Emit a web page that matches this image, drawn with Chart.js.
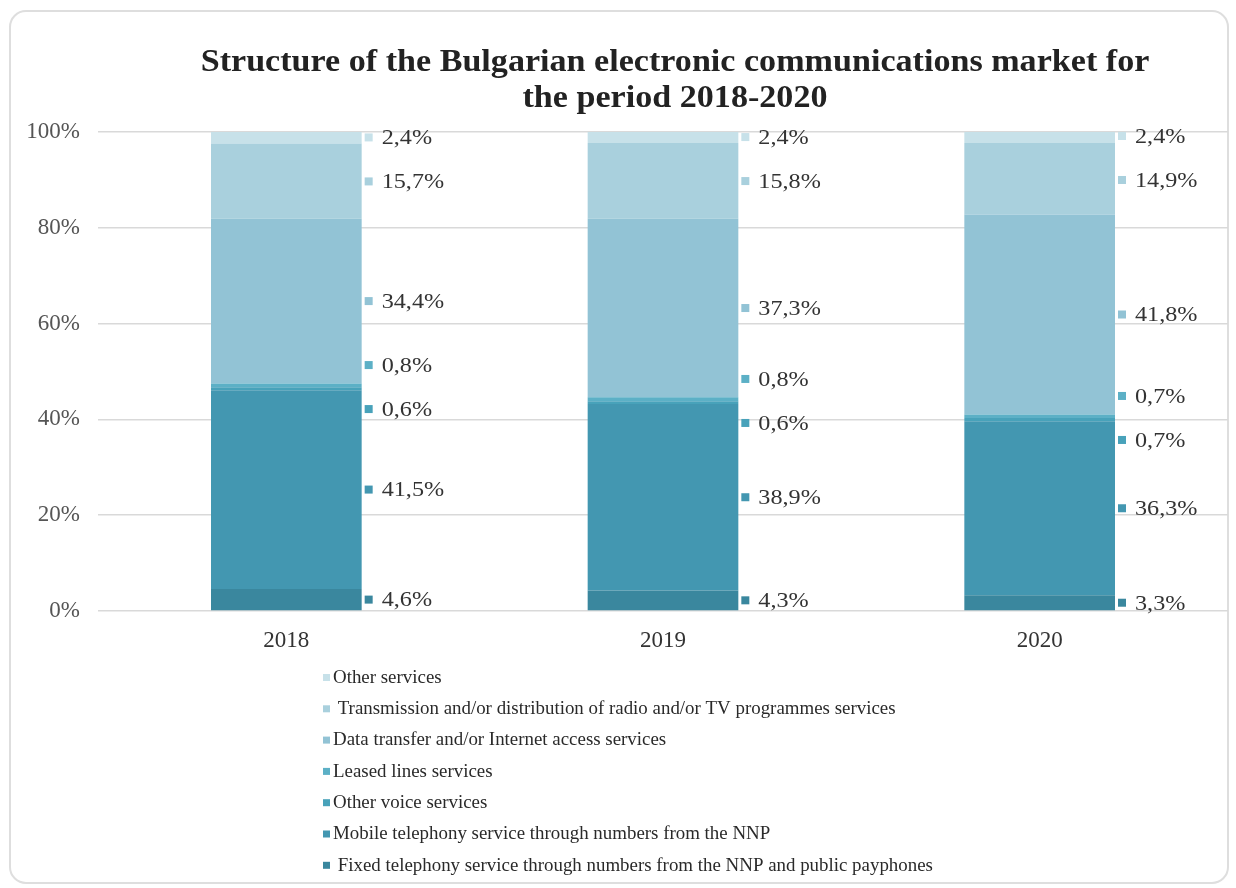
<!DOCTYPE html>
<html>
<head>
<meta charset="utf-8">
<script src="https://cdn.jsdelivr.net/npm/chart.js@4.4.1/dist/chart.umd.min.js"></script>
<style>
  html, body { margin: 0; padding: 0; background: #fff; }
  #wrap { width: 1236px; height: 888px; }
</style>
</head>
<body>
<div id="wrap"><canvas id="marketChart" width="1236" height="888"></canvas></div>
<script>
// market shares, % of total revenue
const years = ['2018', '2019', '2020'];
const fixedTelephony = [4.6, 4.3, 3.3];
const mobileTelephony = [41.5, 38.9, 36.3];
const otherVoice = [0.6, 0.6, 0.7];
const leasedLines = [0.8, 0.8, 0.7];
const dataInternet = [34.4, 37.3, 41.8];
const radioTv = [15.7, 15.8, 14.9];
const otherServices = [2.4, 2.4, 2.4];
const yTicks = [0, 20, 40, 60, 80, 100];

const titleLines = [
  'Structure of the Bulgarian electronic communications market for',
  'the period 2018-2020'
];

const series = [
  { label: ' Fixed telephony service through numbers from the NNP and public payphones', data: fixedTelephony, color: '#3a879e' },
  { label: 'Mobile telephony service through numbers from the NNP', data: mobileTelephony, color: '#4397b1' },
  { label: 'Other voice services', data: otherVoice, color: '#48a2ba' },
  { label: 'Leased lines services', data: leasedLines, color: '#5cb0c6' },
  { label: 'Data transfer and/or Internet access services', data: dataInternet, color: '#92c3d5' },
  { label: ' Transmission and/or distribution of radio and/or TV programmes services', data: radioTv, color: '#a9d0dd' },
  { label: 'Other services', data: otherServices, color: '#c7e1e9' }
];

const SERIF = '"Liberation Serif", "DejaVu Serif", serif';

// text drawn slightly wide, like the rest of the sheet
function wideText(ctx, text, x, y, sx) {
  ctx.save();
  ctx.translate(x, y);
  ctx.scale(sx, 1);
  ctx.fillText(text, 0, 0);
  ctx.restore();
}

// keep neighbouring value labels at least `gap` px apart
function spreadLabels(ys, gap) {
  const out = ys.slice();
  for (let k = 0; k < 200; k++) {
    let moved = false;
    for (let j = 0; j < out.length - 1; j++) {
      const d = out[j] - out[j + 1];
      if (d < gap - 0.01) {
        const push = (gap - d) / 2;
        out[j] += push;
        out[j + 1] -= push;
        moved = true;
      }
    }
    if (!moved) break;
  }
  return out;
}

const framePlugin = {
  id: 'frame',
  beforeDraw(chart) {
    const ctx = chart.ctx;
    ctx.save();
    ctx.fillStyle = '#fff';
    ctx.fillRect(0, 0, chart.width, chart.height);
    ctx.strokeStyle = '#dedede';
    ctx.lineWidth = 2;
    ctx.beginPath();
    ctx.roundRect(10, 11, 1218, 872, 16);
    ctx.stroke();
    ctx.restore();
  },
  afterDraw(chart) {
    const ctx = chart.ctx;
    ctx.save();
    // title
    ctx.fillStyle = '#222';
    ctx.font = 'bold 31px ' + SERIF;
    ctx.textAlign = 'center';
    ctx.textBaseline = 'middle';
    titleLines.forEach((t, i) => wideText(ctx, t, 675, 63 + i * 36, 1.1));

    // legend, top entry is the top of the stack
    ctx.font = '18px ' + SERIF;
    ctx.textAlign = 'left';
    const items = chart.data.datasets.slice().reverse();
    items.forEach((ds, i) => {
      const y = 678 + i * 31.3;
      ctx.fillStyle = ds.backgroundColor;
      ctx.fillRect(323, y - 4, 7, 7);
      ctx.fillStyle = '#2a2a2a';
      wideText(ctx, ds.label, 333, y, 1.05);
    });
    ctx.restore();
  }
};

const valueLabels = {
  id: 'valueLabels',
  afterDatasetsDraw(chart) {
    const ctx = chart.ctx;
    ctx.save();
    ctx.font = '22px ' + SERIF;
    ctx.textBaseline = 'middle';
    ctx.textAlign = 'left';
    chart.data.labels.forEach((_, i) => {
      const bars = chart.data.datasets.map((ds, d) => chart.getDatasetMeta(d).data[i]);
      const centers = bars.map(b => (b.y + b.base) / 2);
      const ys = spreadLabels(centers, 44);
      bars.forEach((b, d) => {
        const right = b.x + b.width / 2;
        const ds = chart.data.datasets[d];
        ctx.fillStyle = ds.backgroundColor;
        ctx.fillRect(right + 3, ys[d] - 4, 8, 8);
        ctx.fillStyle = '#333';
        const v = ds.data[i].toFixed(1).replace('.', ',') + '%';
        wideText(ctx, v, right + 20, ys[d] + 1, 1.1);
      });
    });
    ctx.restore();
  }
};

new Chart(document.getElementById('marketChart'), {
  type: 'bar',
  data: {
    labels: years,
    datasets: series.map(s => ({
      label: s.label,
      data: s.data,
      backgroundColor: s.color,
      borderWidth: 0,
      categoryPercentage: 1,
      barPercentage: 0.4
    }))
  },
  options: {
    responsive: false,
    animation: false,
    layout: { padding: { left: 0, right: 8, top: 132, bottom: 237 } },
    plugins: {
      legend: { display: false },
      title: { display: false },
      tooltip: { enabled: false }
    },
    scales: {
      x: {
        stacked: true,
        grid: { display: false },
        border: { display: false },
        ticks: { color: '#333', font: { family: SERIF, size: 23 }, padding: 8 },
        afterFit(s) { s.height = 40; }
      },
      y: {
        stacked: true,
        min: 0,
        max: 100,
        afterBuildTicks(s) { s.ticks = yTicks.map(v => ({ value: v })); },
        grid: { color: '#d9d9d9', lineWidth: 1.5, drawTicks: false },
        border: { display: false },
        ticks: {
          color: '#555',
          font: { family: SERIF, size: 23 },
          padding: 18,
          callback: v => v + '%'
        },
        afterFit(s) { s.width = 98; }
      }
    }
  },
  plugins: [framePlugin, valueLabels]
});
</script>
</body>
</html>
